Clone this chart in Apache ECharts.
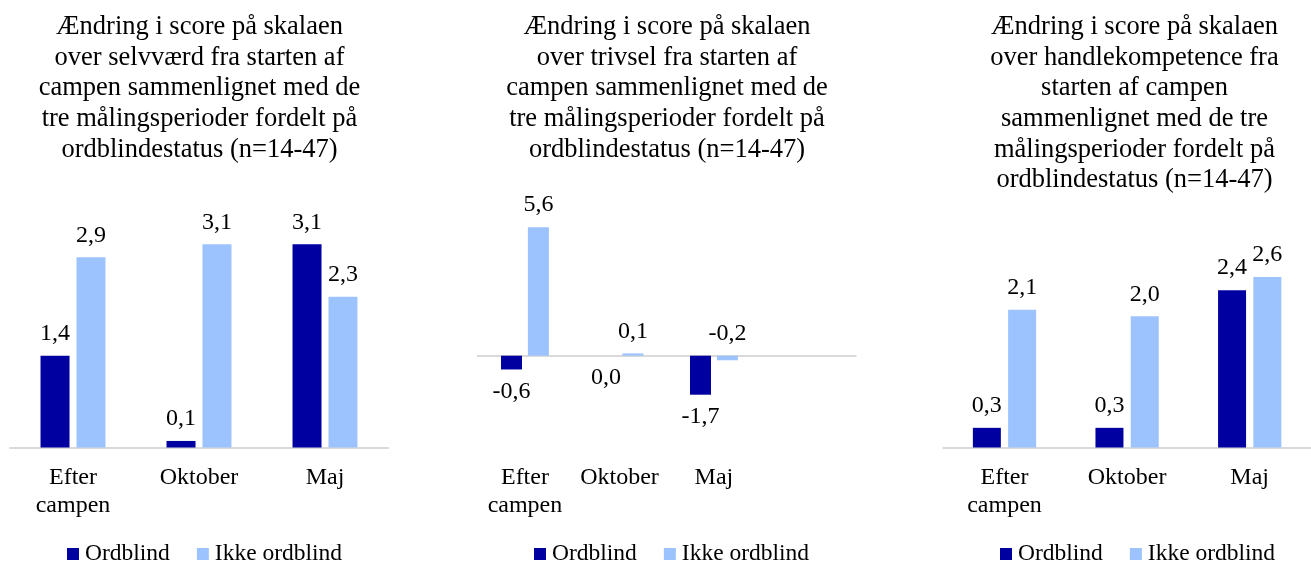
<!DOCTYPE html>
<html>
<head>
<meta charset="utf-8">
<script src="https://cdn.jsdelivr.net/npm/echarts@6/dist/echarts.min.js"></script>
<style>
  html, body { margin: 0; padding: 0; background: #fff; }
  #chart { width: 1311px; height: 564px; }
</style>
</head>
<body>
<div id="chart"></div>
<script>
// data
const titles = [
  'Ændring i score på skalaen\nover selvværd fra starten af\ncampen sammenlignet med de\ntre målingsperioder fordelt på\nordblindestatus (n=14-47)',
  'Ændring i score på skalaen\nover trivsel fra starten af\ncampen sammenlignet med de\ntre målingsperioder fordelt på\nordblindestatus (n=14-47)',
  'Ændring i score på skalaen\nover handlekompetence fra\nstarten af campen\nsammenlignet med de tre\nmålingsperioder fordelt på\nordblindestatus (n=14-47)'
];
const categories = ['Efter\ncampen', 'Oktober', 'Maj'];
const categoriesTrivsel = ['Efter\ncampen', 'Oktober', 'Maj', ''];
const seriesNames = ['Ordblind', 'Ikke ordblind'];

const selvvaerdOrdblind = [1.4, 0.1, 3.1];
const selvvaerdIkke = [2.9, 3.1, 2.3];
const trivselOrdblind = [-0.6, 0.0, -1.7];
const trivselIkke = [5.6, 0.1, -0.2];
const handleOrdblind = [0.3, 0.3, 2.4];
const handleIkke = [2.1, 2.0, 2.6];

const colors = ['#0000A0', '#9DC3FF'];
const font = "'Liberation Serif', 'Times New Roman', serif";

const chart = echarts.init(document.getElementById('chart'));

const panels = [
  {left: 10, width: 378, cats: categories, min: 0, max: 3.5, data: [selvvaerdOrdblind, selvvaerdIkke],
   barWidth: 29, barGap: '24%', titleX: 199.5, legendX: 67, pos: ['top', 'top']},
  {left: 477.7, width: 378, cats: categoriesTrivsel, min: -4, max: 6, data: [trivselOrdblind, trivselIkke],
   barWidth: 21, barGap: '28%', titleX: 667, legendX: 534, pos: ['bottom', 'top']},
  {left: 943.2, width: 378.6, cats: categories, min: 0, max: 3.5, data: [handleOrdblind, handleIkke],
   barWidth: 28, barGap: '26%', titleX: 1134.5, legendX: 1000, pos: ['top', 'top']}
];

const fmt = p => p.value.toFixed(1).replace('.', ',');

const option = {
  animation: false,
  textStyle: {fontFamily: font, color: '#000'},
  title: [], legend: [], grid: [], xAxis: [], yAxis: [], series: []
};

panels.forEach((p, i) => {
  option.title.push({
    text: titles[i], left: p.titleX, top: 12, textAlign: 'center', padding: 0,
    textStyle: {fontFamily: font, fontSize: 26.5, fontWeight: 'normal', color: '#000', lineHeight: 30.6}
  });
  option.legend.push({
    data: seriesNames, left: p.legendX, top: 542, padding: 0, itemWidth: 12, itemHeight: 12, itemGap: 27,
    icon: 'rect', textStyle: {fontFamily: font, fontSize: 23.5, color: '#000', padding: [0, 0, 0, 1]}
  });
  option.grid.push({left: p.left, width: p.width, top: 218, height: 229.5});
  // labels axis at the bottom
  option.xAxis.push({
    type: 'category', gridIndex: i, data: p.cats, position: 'bottom',
    axisLine: {show: false, onZero: false}, axisTick: {show: false},
    axisLabel: {fontFamily: font, fontSize: 24, color: '#000', lineHeight: 28, margin: 16, interval: 0}
  });
  // zero line
  option.xAxis.push({
    type: 'category', gridIndex: i, data: p.cats, position: 'top',
    axisLine: {show: true, onZero: true, lineStyle: {color: '#D9D9D9', width: 2}},
    axisTick: {show: false}, axisLabel: {show: false}
  });
  option.yAxis.push({type: 'value', gridIndex: i, min: p.min, max: p.max, show: false, splitLine: {show: false}});
  p.data.forEach((vals, s) => {
    option.series.push({
      name: seriesNames[s], type: 'bar', xAxisIndex: i * 2, yAxisIndex: i,
      data: vals, barWidth: p.barWidth, barGap: p.barGap,
      itemStyle: {color: colors[s]},
      label: {show: true, position: p.pos[s], distance: 10, formatter: fmt,
        fontFamily: font, fontSize: 24, color: '#000'}
    });
  });
});

chart.setOption(option);
</script>
</body>
</html>
